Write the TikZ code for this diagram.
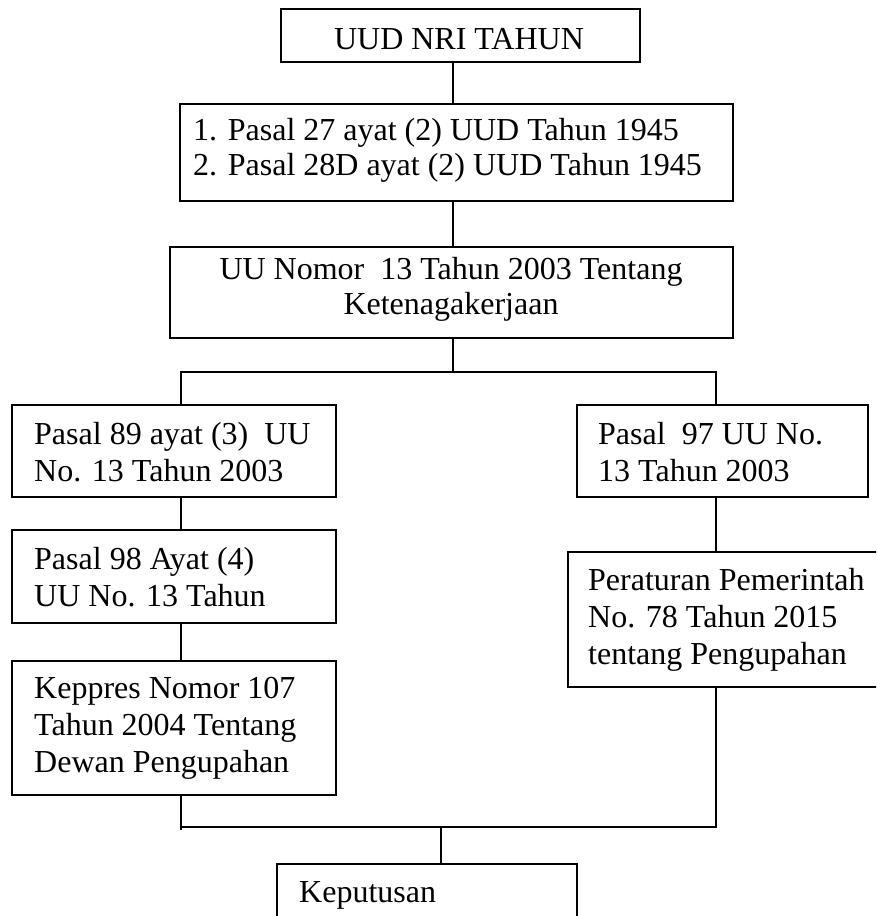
\documentclass[tikz,border=0pt]{standalone}
\usepackage{fontspec}
\setmainfont{Liberation Serif}
\begin{document}
\begin{tikzpicture}[x=1pt,y=-1pt,
  box/.style={draw, line width=1.6pt, inner sep=0pt},
  wire/.style={line width=1.2pt},
  txt/.style={inner sep=0pt, font=\fontsize{32}{37}\selectfont, align=left},
  txtb/.style={inner sep=0pt, font=\fontsize{32}{35}\selectfont}]
\useasboundingbox (0,0) rectangle (876,916);
\clip (0,0) rectangle (876,916);
% boxes
\node[box, minimum width=359pt, minimum height=53pt] (b1) at (460.5,35.5) {};
\node[box, minimum width=553pt, minimum height=97pt] (b2) at (456.5,152.5) {};
\node[box, minimum width=563pt, minimum height=91pt] (b3) at (451.5,292.5) {};
\node[box, minimum width=324pt, minimum height=92pt] (b4) at (174,451) {};
\node[box, minimum width=324pt, minimum height=93pt] (b5) at (174,576.5) {};
\node[box, minimum width=324pt, minimum height=134pt] (b6) at (174,728) {};
\node[box, minimum width=291pt, minimum height=92pt] (b7) at (722.5,451) {};
\node[box, minimum width=332pt, minimum height=135pt] (b8) at (734,619.5) {};
\node[box, minimum width=300pt, minimum height=116pt] (b9) at (427,922) {};
% texts
\node[txt, anchor=base] (t1) at (459,49) {UUD NRI TAHUN};
\node[txtb, align=left, anchor=west] (t2) at (193,150) {1. Pasal 27 ayat (2) UUD Tahun 1945\\2. Pasal 28D ayat (2) UUD Tahun 1945};
\node[txtb, align=center, anchor=center] (t3) at (451,289) {UU Nomor\ \ 13 Tahun 2003 Tentang\\Ketenagakerjaan};
\node[txt, anchor=west] (t4) at (34,452) {Pasal 89 ayat (3)\ \ UU\\No. 13 Tahun 2003};
\node[txt, anchor=west] (t5) at (34,577) {Pasal 98 Ayat (4)\\UU No. 13 Tahun};
\node[txt, anchor=west] (t6) at (34,728) {Keppres Nomor 107\\Tahun 2004 Tentang\\Dewan Pengupahan};
\node[txt, anchor=west] (t7) at (598,452) {Pasal\ \ 97 UU No.\\13 Tahun 2003};
\node[txt, anchor=west] (t8) at (588,619.5) {Peraturan Pemerintah\\No. 78 Tahun 2015\\tentang Pengupahan};
\node[txt, anchor=base west] (t9) at (299,902) {Keputusan};
% connector helpers
\coordinate (xa) at (453,0);
\coordinate (xl) at (181,0);
\coordinate (xr) at (716,0);
\coordinate (xm) at (441,0);
\coordinate (j1) at (453,372);
\coordinate (jl) at (181,372);
\coordinate (jr) at (716,372);
\coordinate (kl) at (181,827);
\coordinate (kl2) at (181,830);
\coordinate (kr) at (716,827);
\coordinate (km) at (441,827);
% connectors
\draw[wire] (xa |- b1.south) -- (xa |- b2.north);
\draw[wire] (xa |- b2.south) -- (xa |- b3.north);
\draw[wire] (xa |- b3.south) -- (j1);
\draw[wire] (xl |- b4.north) -- (jl) -- (jr) -- (xr |- b7.north);
\draw[wire] (xl |- b4.south) -- (xl |- b5.north);
\draw[wire] (xl |- b5.south) -- (xl |- b6.north);
\draw[wire] (xr |- b7.south) -- (xr |- b8.north);
\draw[wire] (xl |- b6.south) -- (kl2);
\draw[wire] (kl) -- (kr) -- (xr |- b8.south);
\draw[wire] (km) -- (xm |- b9.north);
\end{tikzpicture}
\end{document}
